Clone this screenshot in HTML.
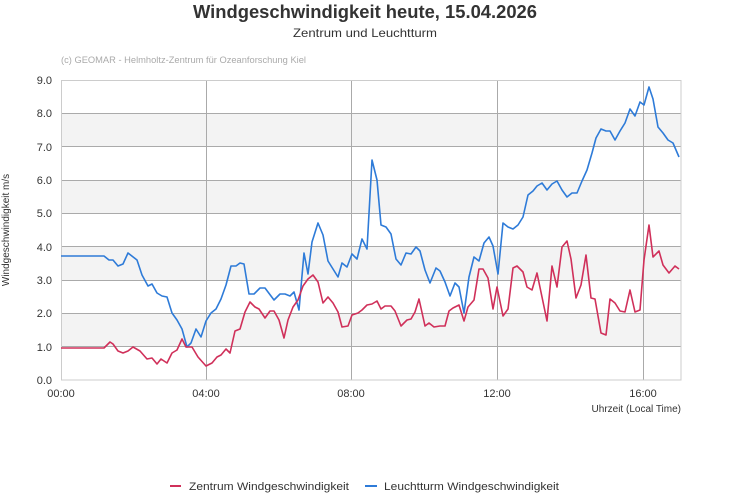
<!DOCTYPE html>
<html><head><meta charset="utf-8"><style>body{margin:0;background:#fff}svg{display:block;font-family:"Liberation Sans",sans-serif}</style></head><body>
<svg width="731" height="500" viewBox="0 0 731 500">
<rect width="731" height="500" fill="#fff"/>
<text x="365" y="18" text-anchor="middle" font-size="18" font-weight="bold" fill="#333" textLength="344" lengthAdjust="spacingAndGlyphs">Windgeschwindigkeit heute, 15.04.2026</text>
<text x="365" y="37" text-anchor="middle" font-size="12" fill="#333" textLength="144" lengthAdjust="spacingAndGlyphs">Zentrum und Leuchtturm</text>
<text x="61" y="63" font-size="9" fill="#aaa" textLength="245" lengthAdjust="spacingAndGlyphs">(c) GEOMAR - Helmholtz-Zentrum für Ozeanforschung Kiel</text>
<g fill="#f3f3f3">
<rect x="61" y="113.3" width="620" height="33.3"/><rect x="61" y="180" width="620" height="33.3"/><rect x="61" y="246.7" width="620" height="33.3"/><rect x="61" y="313.3" width="620" height="33.3"/>
</g>
<g stroke="#aaa" stroke-width="1">
<line x1="61" y1="113.5" x2="681" y2="113.5"/><line x1="61" y1="146.5" x2="681" y2="146.5"/><line x1="61" y1="180.5" x2="681" y2="180.5"/><line x1="61" y1="213.5" x2="681" y2="213.5"/><line x1="61" y1="246.5" x2="681" y2="246.5"/><line x1="61" y1="280.5" x2="681" y2="280.5"/><line x1="61" y1="313.5" x2="681" y2="313.5"/><line x1="61" y1="346.5" x2="681" y2="346.5"/>
<line x1="206.5" y1="80" x2="206.5" y2="380"/><line x1="351.5" y1="80" x2="351.5" y2="380"/><line x1="497.5" y1="80" x2="497.5" y2="380"/><line x1="643.5" y1="80" x2="643.5" y2="380"/>
</g>
<rect x="61.5" y="80.5" width="619.5" height="299.5" fill="none" stroke="#ccc"/>
<g font-size="11" fill="#333" text-anchor="end">
<text x="52" y="84">9.0</text><text x="52" y="117">8.0</text><text x="52" y="151">7.0</text><text x="52" y="184">6.0</text><text x="52" y="217">5.0</text><text x="52" y="251">4.0</text><text x="52" y="284">3.0</text><text x="52" y="317">2.0</text><text x="52" y="351">1.0</text><text x="52" y="384">0.0</text>
</g>
<g font-size="11" fill="#333" text-anchor="middle">
<text x="61" y="397">00:00</text><text x="206" y="397">04:00</text><text x="351" y="397">08:00</text><text x="497" y="397">12:00</text><text x="643" y="397">16:00</text>
</g>
<text x="681" y="412" font-size="10" fill="#333" text-anchor="end">Uhrzeit (Local Time)</text>
<text transform="translate(9,230) rotate(-90)" font-size="10" fill="#333" text-anchor="middle">Windgeschwindigkeit m/s</text>
<polyline fill="none" stroke="#2e7bd8" stroke-width="1.6" stroke-linejoin="round" points="61,256 104,256 109,260 113,260 118,266 123,264 128,253 137,260 142,275 148,286 152,284 157,293 162,296 167,297 172,313 177,320 182,329 187,347 191,343 196,329 201,337 206,321 211,313 216,309 221,299 226,285 231,266 236,266 240,263 244,264 249,294 254,294 260,288 265,288 274,300 280,294 285,294 290,296 294,292 299,310 304,253 308,274 312,242 318,223 323,235 328,261 338,277 342,263 347,267 352,254 357,259 362,239 367,249 372,160 377,180 381,225 386,227 391,234 396,259 401,265 406,253 411,254 416,247 420,251 425,270 430,283 436,268 440,271 445,282 450,296 455,283 459,287 464,313 469,277 474,257 479,261 484,243 489,237 493,246 498,274 503,223 508,227 513,229 518,225 523,217 528,195 533,191 537,186 542,183 547,190 552,184 557,181 562,190 567,197 572,193 577,193 582,181 587,170 592,153 596,138 601,129 606,131 610,131 615,140 620,131 625,123 630,109 635,116 640,102 644,105 649,87 653,99 658,127 663,133 668,140 673,143 679,157"/>
<polyline fill="none" stroke="#d0305a" stroke-width="1.6" stroke-linejoin="round" points="61,348 104,348 110,342 113,344 118,351 123,353 128,351 133,347 140,351 147,359 152,358 157,364 161,359 167,363 172,353 177,350 182,339 186,347 192,347 198,357 206,366 212,363 217,357 221,355 226,349 230,353 235,331 240,329 245,312 250,302 255,307 259,309 265,318 270,311 274,311 279,320 284,338 288,320 293,307 298,300 303,286 308,279 313,275 318,282 323,303 328,297 333,303 338,312 342,327 348,326 352,315 358,313 362,310 367,305 372,304 377,301 381,309 385,306 391,306 395,311 401,326 407,320 411,319 415,312 419,299 425,326 429,323 434,327 440,326 445,326 449,311 453,308 459,305 464,321 468,307 474,300 479,269 483,269 488,278 493,309 497,287 503,316 508,309 513,268 517,266 523,272 527,287 532,290 537,273 542,297 547,321 552,266 557,287 562,247 567,241 571,259 576,298 581,285 586,255 591,298 595,299 601,333 606,335 610,299 615,303 620,311 625,312 630,290 635,312 640,310 644,260 649,225 653,257 659,251 663,265 669,273 675,266 679,269"/>
<line x1="170" y1="486" x2="181" y2="486" stroke="#d0305a" stroke-width="2"/>
<text x="189" y="490" font-size="11" fill="#333" textLength="160" lengthAdjust="spacingAndGlyphs">Zentrum Windgeschwindigkeit</text>
<line x1="365" y1="486" x2="377" y2="486" stroke="#2e7bd8" stroke-width="2"/>
<text x="384" y="490" font-size="11" fill="#333" textLength="175" lengthAdjust="spacingAndGlyphs">Leuchtturm Windgeschwindigkeit</text>
</svg>
</body></html>
